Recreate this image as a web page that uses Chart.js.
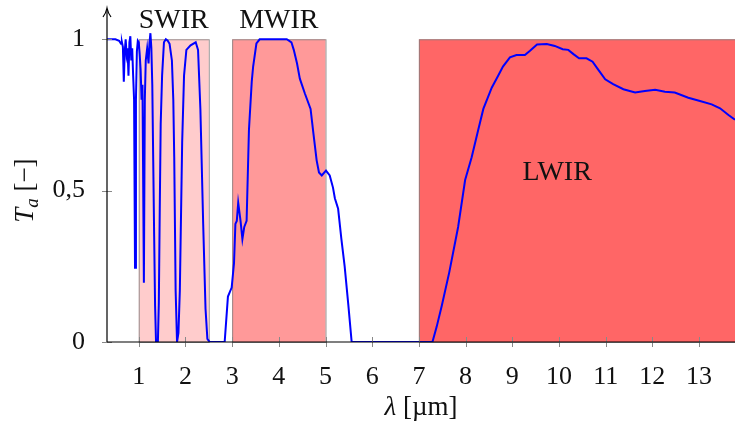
<!DOCTYPE html>
<html>
<head>
<meta charset="utf-8">
<script src="https://cdn.jsdelivr.net/npm/chart.js@4.4.0/dist/chart.umd.min.js"></script>
<style>
  html, body { margin: 0; padding: 0; background: #fff; }
  #wrap { width: 735px; height: 423px; }
</style>
</head>
<body>
<div id="wrap"><canvas id="myChart" width="735" height="423"></canvas></div>
<script>
// wavelength in µm, transmission T_a
var wavelength = [
    0.32, 0.50, 0.58, 0.60, 0.62, 0.64, 0.66, 0.68, 0.70, 0.72, 0.74, 0.76, 0.78, 0.80, 0.82, 0.84,
    0.86, 0.88, 0.90, 0.92, 0.94, 0.96, 0.98, 1.00, 1.02, 1.04, 1.06, 1.08, 1.11, 1.13, 1.15, 1.18,
    1.21, 1.23, 1.25, 1.27, 1.29, 1.31, 1.33, 1.35, 1.37, 1.41, 1.43, 1.45, 1.47, 1.50, 1.54, 1.58,
    1.62, 1.66, 1.71, 1.74, 1.76, 1.79, 1.82, 1.85, 1.88, 1.93, 1.97, 2.02, 2.11, 2.22, 2.27, 2.32,
    2.38, 2.43, 2.47, 2.52, 2.84, 2.91, 2.99, 3.04, 3.07, 3.10, 3.13, 3.18, 3.22, 3.26, 3.31, 3.36,
    3.42, 3.45, 3.52, 3.59, 4.17, 4.27, 4.32, 4.39, 4.45, 4.56, 4.68, 4.74, 4.81, 4.86, 4.92, 5.01,
    5.09, 5.16, 5.20, 5.27, 5.34, 5.41, 5.49, 5.56, 7.29, 7.38, 7.49, 7.65, 7.84, 7.99, 8.13, 8.27,
    8.38, 8.56, 8.70, 8.80, 8.95, 9.09, 9.27, 9.38, 9.53, 9.74, 9.91, 10.08, 10.20, 10.31, 10.43, 10.59,
    10.72, 10.84, 10.99, 11.16, 11.38, 11.63, 11.84, 12.06, 12.27, 12.48, 12.77, 13.02, 13.27, 13.45, 13.63, 13.77
];
var transmission = [
    1.0, 1.0, 0.995, 0.99, 0.985, 0.99, 0.975, 0.86, 0.96, 1.0, 0.95, 0.97, 0.88, 0.99, 1.01, 0.93,
    0.97, 0.88, 0.80, 0.245, 0.80, 0.96, 0.995, 0.99, 0.95, 0.90, 0.80, 0.85, 0.196, 0.80, 0.93, 0.97,
    0.92, 0.99, 1.02, 0.97, 0.85, 0.60, 0.35, 0.12, 0.0, 0.0, 0.13, 0.44, 0.72, 0.88, 0.99, 1.0,
    0.995, 0.985, 0.93, 0.80, 0.61, 0.17, 0.0, 0.03, 0.17, 0.66, 0.88, 0.965, 0.98, 0.99, 0.965, 0.77,
    0.39, 0.11, 0.01, 0.0, 0.0, 0.15, 0.18, 0.26, 0.39, 0.40, 0.46, 0.40, 0.34, 0.38, 0.40, 0.70,
    0.86, 0.91, 0.986, 1.0, 1.0, 0.99, 0.965, 0.92, 0.87, 0.82, 0.77, 0.69, 0.60, 0.56, 0.55, 0.566,
    0.55, 0.51, 0.475, 0.44, 0.34, 0.25, 0.12, 0.0, 0.0, 0.05, 0.12, 0.23, 0.38, 0.535, 0.61, 0.70,
    0.77, 0.84, 0.88, 0.91, 0.94, 0.948, 0.948, 0.962, 0.983, 0.984, 0.978, 0.967, 0.965, 0.951, 0.937, 0.937,
    0.926, 0.90, 0.868, 0.852, 0.835, 0.824, 0.829, 0.833, 0.827, 0.824, 0.807, 0.796, 0.785, 0.772, 0.75, 0.734
];

// spectral bands
var bandNames = ['SWIR', 'MWIR', 'LWIR'];
var bandStart = [1, 3, 7];
var bandEnd = [2.5, 5, 14];

var xTicks = [1, 2, 3, 4, 5, 6, 7, 8, 9, 10, 11, 12, 13];
var yTicks = [0, 0.5, 1];

var FONT = 'Liberation Serif';
var bandFill = ['rgb(255, 204, 204)', 'rgb(255, 153, 153)', 'rgb(255, 102, 102)'];

function drawParts(ctx, parts, x, y) {
    // parts: [text, font, dy]
    var total = 0;
    parts.forEach(function(p) { ctx.font = p[1]; total += ctx.measureText(p[0]).width; });
    var cx = x - total / 2;
    parts.forEach(function(p) {
        ctx.font = p[1];
        ctx.fillText(p[0], cx, y + (p[2] || 0));
        cx += ctx.measureText(p[0]).width;
    });
}

var overlay = {
    id: 'overlay',
    beforeDatasetsDraw: function(chart) {
        var ctx = chart.ctx, xs = chart.scales.x, ys = chart.scales.y, area = chart.chartArea;
        ctx.save();
        for (var i = 0; i < bandNames.length; i++) {
            var x0 = xs.getPixelForValue(bandStart[i]);
            var x1 = Math.min(xs.getPixelForValue(bandEnd[i]), area.right + 2);
            var yTop = ys.getPixelForValue(1), yBot = ys.getPixelForValue(0);
            ctx.fillStyle = bandFill[i];
            ctx.fillRect(x0, yTop, x1 - x0, yBot - yTop);
            ctx.strokeStyle = 'rgba(128,128,128,0.8)';
            ctx.lineWidth = 1;
            ctx.strokeRect(x0 + 0.5, yTop + 0.5, x1 - x0, yBot - yTop);
        }
        ctx.restore();
    },
    afterDraw: function(chart) {
        var ctx = chart.ctx, xs = chart.scales.x, ys = chart.scales.y, area = chart.chartArea;
        var y0 = ys.getPixelForValue(0);
        ctx.save();
        // tick marks
        ctx.strokeStyle = '#888';
        ctx.lineWidth = 1;
        xTicks.forEach(function(v) {
            var px = Math.round(xs.getPixelForValue(v)) + 0.5;
            ctx.beginPath(); ctx.moveTo(px, y0 - 5); ctx.lineTo(px, y0 + 5); ctx.stroke();
        });
        yTicks.forEach(function(v) {
            var py = Math.round(ys.getPixelForValue(v)) + 0.5;
            ctx.beginPath(); ctx.moveTo(area.left - 5, py); ctx.lineTo(area.left + 5, py); ctx.stroke();
        });
        // axes
        ctx.strokeStyle = '#000';
        ctx.lineWidth = 1.2;
        ctx.beginPath();
        ctx.moveTo(area.left, y0); ctx.lineTo(area.right, y0);
        ctx.moveTo(area.left, y0); ctx.lineTo(area.left, area.top);
        ctx.stroke();
        // arrow head
        ctx.beginPath();
        ctx.moveTo(area.left - 4, area.top + 8);
        ctx.quadraticCurveTo(area.left - 1, area.top + 4, area.left, area.top - 1);
        ctx.quadraticCurveTo(area.left + 1, area.top + 4, area.left + 4, area.top + 8);
        ctx.stroke();

        // band labels
        ctx.fillStyle = '#111';
        ctx.font = '28px "' + FONT + '"';
        ctx.textAlign = 'center';
        ctx.textBaseline = 'middle';
        for (var i = 0; i < 2; i++) {
            var cx = (xs.getPixelForValue(bandStart[i]) + xs.getPixelForValue(bandEnd[i])) / 2;
            ctx.fillText(bandNames[i], cx, 21);
        }
        ctx.fillText(bandNames[2], xs.getPixelForValue(9.96), ys.getPixelForValue(0.56));

        // axis titles
        ctx.textAlign = 'left';
        ctx.textBaseline = 'alphabetic';
        drawParts(ctx, [['λ', 'italic 27px "' + FONT + '"'], [' [µm]', '27px "' + FONT + '"']], (area.left + area.right) / 2, 415);
        ctx.translate(33, ys.getPixelForValue(0.5));
        ctx.rotate(-Math.PI / 2);
        drawParts(ctx, [['T', 'italic 27px "' + FONT + '"'], ['a', 'italic 19px "' + FONT + '"', 5], [' [−]', '27px "' + FONT + '"']], 0, 0);
        ctx.restore();
    }
};

var points = wavelength.map(function(w, i) { return { x: w, y: transmission[i] }; });

var ctx = document.getElementById('myChart').getContext('2d');
var myChart = new Chart(ctx, {
    type: 'line',
    data: {
        datasets: [{
            data: points,
            borderColor: '#0000ff',
            borderWidth: 2,
            pointRadius: 0,
            tension: 0,
            fill: false
        }]
    },
    options: {
        responsive: false,
        animation: false,
        layout: { padding: { top: 9, right: 0, left: 0, bottom: 0 } },
        plugins: { legend: { display: false }, tooltip: { enabled: false } },
        scales: {
            x: {
                type: 'linear',
                min: 0.32,
                max: 13.77,
                afterBuildTicks: function(scale) { scale.ticks = xTicks.map(function(v) { return { value: v }; }); },
                afterFit: function(scale) { scale.height = 81; scale.paddingLeft = 0; scale.paddingRight = 0; },
                grid: { display: false },
                border: { display: false },
                ticks: { color: '#111', padding: 12, font: { family: FONT, size: 26 }, maxRotation: 0 }
            },
            y: {
                min: 0,
                max: 1.1,
                afterBuildTicks: function(scale) { scale.ticks = yTicks.map(function(v) { return { value: v }; }); },
                afterFit: function(scale) { scale.width = 107; scale.paddingTop = 0; scale.paddingBottom = 0; },
                grid: { display: false },
                border: { display: false },
                ticks: {
                    color: '#111',
                    padding: 14,
                    font: { family: FONT, size: 26 },
                    callback: function(v) { return String(v).replace('.', ','); }
                }
            }
        }
    },
    plugins: [overlay]
});
</script>
</body>
</html>
